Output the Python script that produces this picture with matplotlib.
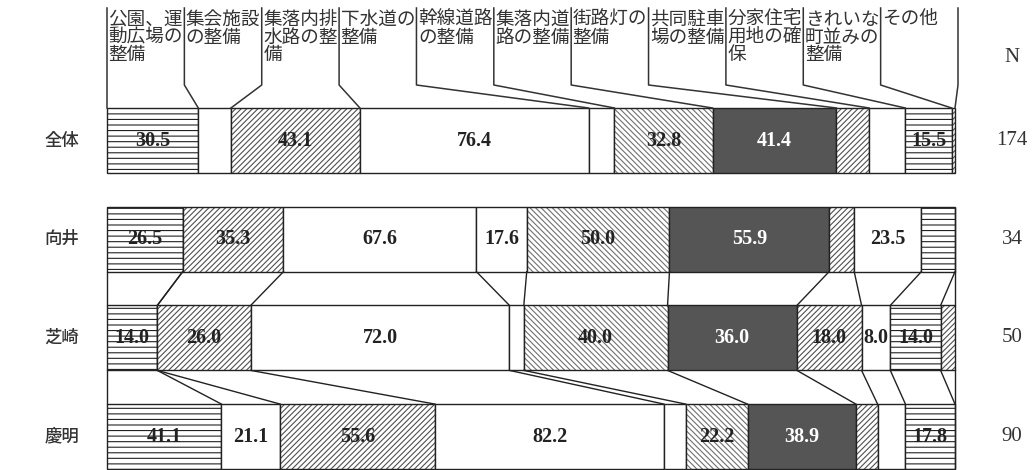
import numpy as np
import matplotlib
matplotlib.use('Agg')
import matplotlib.pyplot as plt

# ---------------- data ----------------
categories = ['公園、運動広場の整備', '集会施設の整備', '集落内排水路の整備', '下水道の整備',
              '幹線道路の整備', '集落内道路の整備', '街路灯の整備', '共同駐車場の整備',
              '分家住宅用地の確保', 'きれいな町並みの整備', 'その他']
rows = ['全体', '向井', '芝崎', '慶明']
n_values = [174, 34, 50, 90]
v_all = [30.5, 10.9, 43.1, 76.4, 8.6, 32.8, 41.4, 10.9, 12.1, 15.5, 1.1]
v_mukai = [26.5, 0.0, 35.3, 67.6, 17.6, 50.0, 55.9, 8.8, 23.5, 11.8, 0.0]
v_shibasaki = [14.0, 0.0, 26.0, 72.0, 4.0, 40.0, 36.0, 18.0, 8.0, 14.0, 4.0]
v_keimei = [41.1, 21.1, 55.6, 82.2, 7.8, 22.2, 38.9, 7.8, 10.0, 17.8, 0.0]

# ---------------- style ----------------
# pattern per category: (facecolor, hatch, hatchcolor, textcolor)
styles = [
    ('white', '---', '#222222', '#222222'),
    ('white', None, None, '#222222'),
    ('white', '//////', '#505050', '#222222'),
    ('white', None, None, '#222222'),
    ('white', None, None, '#222222'),
    ('white', '\\\\\\\\\\\\', '#707070', '#222222'),
    ('#555555', None, None, 'white'),
    ('white', '//////', '#505050', '#222222'),
    ('white', None, None, '#222222'),
    ('white', '---', '#222222', '#222222'),
    ('white', '//////', '#505050', '#222222'),
]

W, H = 1034, 470
X0, XW = 107, 848           # pixel start and width of the bars
Y0, DY = 140.5, 98.7        # pixel centre of first row and row pitch
BH = 65 / DY

fig = plt.figure(figsize=(W / 100, H / 100), dpi=100)
ax = fig.add_axes([0, 0, 1, 1])
ax.set_xlim(-X0 / XW, (W - X0) / XW)
ax.set_ylim((H - Y0) / DY, -Y0 / DY)
ax.axis('off')

def px_x(p):
    return (p - X0) / XW

def px_y(p):
    return (p - Y0) / DY

data = np.array([v_all, v_mukai, v_shibasaki, v_keimei])
frac = data / data.sum(axis=1, keepdims=True)
bounds = np.hstack([np.zeros((len(rows), 1)), np.cumsum(frac, axis=1)])
ypos = np.arange(len(rows))

matplotlib.rcParams['hatch.linewidth'] = 0.8
for k in range(len(categories)):
    fc, hatch, hc, _ = styles[k]
    ax.barh(ypos, frac[:, k], left=bounds[:, k], height=BH, color=fc,
            hatch=hatch, edgecolor=hc if hc else fc, linewidth=0)
    ax.barh(ypos, frac[:, k], left=bounds[:, k], height=BH, fill=False,
            edgecolor='#222222', linewidth=1.0)

# value labels (only where they fit)
fig.canvas.draw()
renderer = fig.canvas.get_renderer()
for r in range(len(rows)):
    for k in range(len(categories)):
        v = data[r, k]
        if v <= 0:
            continue
        cx = (bounds[r, k] + bounds[r, k + 1]) / 2
        t = ax.text(cx, r, f'{v:.1f}', ha='center', va='center', fontsize=14.5,
                    fontweight='bold', family='Liberation Serif', color=styles[k][3])
        tw = t.get_window_extent(renderer).width
        segw = frac[r, k] * XW
        if tw + 2 > segw:
            t.remove()

# connectors between village rows
for r in (1, 2):
    for k in range(len(categories) + 1):
        ax.plot([bounds[r, k], bounds[r + 1, k]], [r + BH / 2, r + 1 - BH / 2],
                color='#222222', lw=1.0)

# top category labels with leader lines
col_x = np.linspace(0, (958 - X0) / XW, len(categories) + 1)
y_top, y_knee = px_y(8), px_y(85)
for k in range(len(categories) + 1):
    ax.plot([col_x[k], col_x[k], bounds[0, k]], [y_top, y_knee, -BH / 2],
            color='#333333', lw=1.1)
for k, name in enumerate(categories):
    parts = [name[i:i + 4] for i in range(0, len(name), 4)]
    for j, p in enumerate(parts):
        ax.text(col_x[k] + 1.5 / XW, px_y(11 + 17.5 * j), p, ha='left', va='top',
                fontsize=13.4, family='Noto Sans CJK JP', color='#333333')

# row labels and N
for r, name in enumerate(rows):
    ax.text(px_x(62), r, name, ha='center', va='center', fontsize=12.5,
            family='Noto Sans CJK JP', fontweight='medium', color='#333333')
    ax.text(px_x(1012), r, str(n_values[r]), ha='center', va='center',
            fontsize=15, family='Liberation Serif', color='#333333')
ax.text(px_x(1012), px_y(57), 'N', ha='center', va='center', fontsize=15,
        family='Liberation Serif', color='#333333')

fig.savefig('out.png', dpi=100, facecolor='white')
